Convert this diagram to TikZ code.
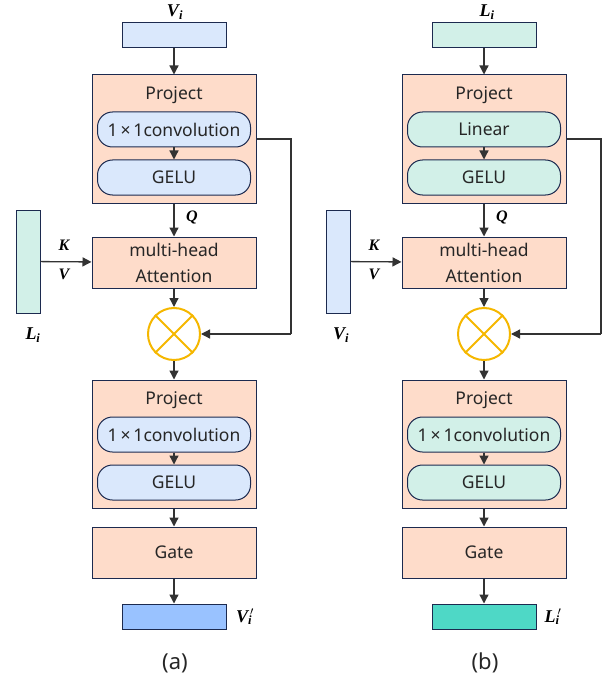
\documentclass[tikz,border=0pt]{standalone}
\usepackage{fontspec}
\setmainfont{Noto Sans}
\newfontfamily\lblfont{Liberation Serif}
\usetikzlibrary{arrows.meta}
\definecolor{peach}{HTML}{FEDCCA}
\definecolor{lblue}{HTML}{DAE8FC}
\definecolor{mint}{HTML}{D2F0E8}
\definecolor{navy}{HTML}{1C2A4F}
\definecolor{oblue}{HTML}{99C2FF}
\definecolor{oteal}{HTML}{4ED8C6}
\definecolor{ygold}{HTML}{F5B700}
\definecolor{lgray}{HTML}{333333}
\newcommand{\bi}[1]{{\lblfont\bfseries\itshape #1}}
\tikzset{
  x=1pt, y=-1pt,
  txt/.style={font=\fontsize{17.5}{26}\selectfont, text=black!85},
  bigbox/.style={draw=navy, line width=1pt, fill=peach, minimum width=164pt, inner sep=0pt},
  pill/.style={draw=navy, line width=1pt, rounded corners=15pt, minimum width=153pt, minimum height=35pt, inner sep=0pt, txt},
  bar/.style={draw=navy, line width=1pt, minimum width=104pt, minimum height=25pt, inner sep=0pt},
  vbar/.style={draw=navy, line width=1pt, minimum width=24pt, minimum height=103pt, inner sep=0pt},
  mult/.style={circle, draw=ygold, line width=2pt, minimum size=52pt, inner sep=0pt},
  conn/.style={draw=lgray, line width=1.3pt, -{Triangle[length=9pt,width=9pt]}},
  plain/.style={draw=lgray, line width=1.2pt},
  lab/.style={font=\fontsize{18}{20}\selectfont, inner sep=0pt},
  slab/.style={font=\fontsize{16}{18}\selectfont, inner sep=0pt},
  captxt/.style={font=\fontsize{22}{24}\selectfont, inner sep=0pt, text=black!85}
}
\begin{document}
\begin{tikzpicture}
\useasboundingbox (0,0) rectangle (613,687);
% ================= column (a) =================
\node[lab] (tlA) at (175,12) {\bi{V\textsubscript{i}}};
\node[bar, fill=lblue] (inA) at (174,35.5) {};
\node[bigbox, minimum height=128pt] (projA) at (174,139) {};
\node[txt] (ptA) at (174,95) {Project};
\node[pill, fill=lblue] (convA) at (174,129.5) {1\,×\,1convolution};
\node[pill, fill=lblue] (geluA) at (174,177.5) {GELU};
\node[bigbox, minimum height=51pt, txt, align=center] (attA) at (174,262.5) {multi-head\\Attention};
\node[vbar, fill=mint] (sideA) at (28,261.5) {};
\node[lab] (slA) at (33,335) {\bi{L\textsubscript{i}}};
\node[slab] (kA) at (64,245) {\bi{K}};
\node[slab] (vA) at (64,274) {\bi{V}};
\node[slab] (qA) at (192,217) {\bi{Q}};
\node[mult] (mulA) at (174,334) {};
\draw[ygold, line width=2pt] (mulA.north east) -- (mulA.south west) (mulA.north west) -- (mulA.south east);
\coordinate (skA1) at (291,139);
\coordinate (skA2) at (291,334);
\node[bigbox, minimum height=128pt] (proj2A) at (174,444) {};
\node[txt] (pt2A) at (174,400) {Project};
\node[pill, fill=lblue] (conv2A) at (174,434.5) {1\,×\,1convolution};
\node[pill, fill=lblue] (gelu2A) at (174,482.5) {GELU};
\node[bigbox, minimum height=51pt, txt] (gateA) at (174,552.5) {Gate};
\node[bar, fill=oblue] (outA) at (174,616.5) {};
\node[lab] (olA) at (244,617) {\bi{V\rlap{\textsuperscript{\,$\prime$}}\textsubscript{i}}};
\node[captxt] (capA) at (175,663) {(a)};
\draw[conn] (inA) -- (projA);
\draw[conn] (convA) -- (geluA);
\draw[conn] (projA) -- (attA);
\draw[conn] (sideA) -- (attA);
\draw[conn] (attA) -- (mulA);
\draw[plain] (projA.east) -- (skA1) -- (skA2);
\draw[conn] (skA2) -- (mulA);
\draw[conn] (mulA) -- (proj2A);
\draw[conn] (conv2A) -- (gelu2A);
\draw[conn] (proj2A) -- (gateA);
\draw[conn] (gateA) -- (outA);
% ================= column (b) =================
\node[lab] (tlB) at (487,12) {\bi{L\textsubscript{i}}};
\node[bar, fill=mint] (inB) at (484,35.5) {};
\node[bigbox, minimum height=128pt] (projB) at (484,139) {};
\node[txt] (ptB) at (484,95) {Project};
\node[pill, fill=mint] (convB) at (484,129.5) {Linear};
\node[pill, fill=mint] (geluB) at (484,177.5) {GELU};
\node[bigbox, minimum height=51pt, txt, align=center] (attB) at (484,262.5) {multi-head\\Attention};
\node[vbar, fill=lblue] (sideB) at (338,261.5) {};
\node[lab] (slB) at (341,335) {\bi{V\textsubscript{i}}};
\node[slab] (kB) at (374,245) {\bi{K}};
\node[slab] (vB) at (374,274) {\bi{V}};
\node[slab] (qB) at (502,217) {\bi{Q}};
\node[mult] (mulB) at (484,334) {};
\draw[ygold, line width=2pt] (mulB.north east) -- (mulB.south west) (mulB.north west) -- (mulB.south east);
\coordinate (skB1) at (601,139);
\coordinate (skB2) at (601,334);
\node[bigbox, minimum height=128pt] (proj2B) at (484,444) {};
\node[txt] (pt2B) at (484,400) {Project};
\node[pill, fill=mint] (conv2B) at (484,434.5) {1\,×\,1convolution};
\node[pill, fill=mint] (gelu2B) at (484,482.5) {GELU};
\node[bigbox, minimum height=51pt, txt] (gateB) at (484,552.5) {Gate};
\node[bar, fill=oteal] (outB) at (484,616.5) {};
\node[lab] (olB) at (552,617) {\bi{L\rlap{\textsuperscript{\,$\prime$}}\textsubscript{i}}};
\node[captxt] (capB) at (485,663) {(b)};
\draw[conn] (inB) -- (projB);
\draw[conn] (convB) -- (geluB);
\draw[conn] (projB) -- (attB);
\draw[conn] (sideB) -- (attB);
\draw[conn] (attB) -- (mulB);
\draw[plain] (projB.east) -- (skB1) -- (skB2);
\draw[conn] (skB2) -- (mulB);
\draw[conn] (mulB) -- (proj2B);
\draw[conn] (conv2B) -- (gelu2B);
\draw[conn] (proj2B) -- (gateB);
\draw[conn] (gateB) -- (outB);
\end{tikzpicture}
\end{document}
